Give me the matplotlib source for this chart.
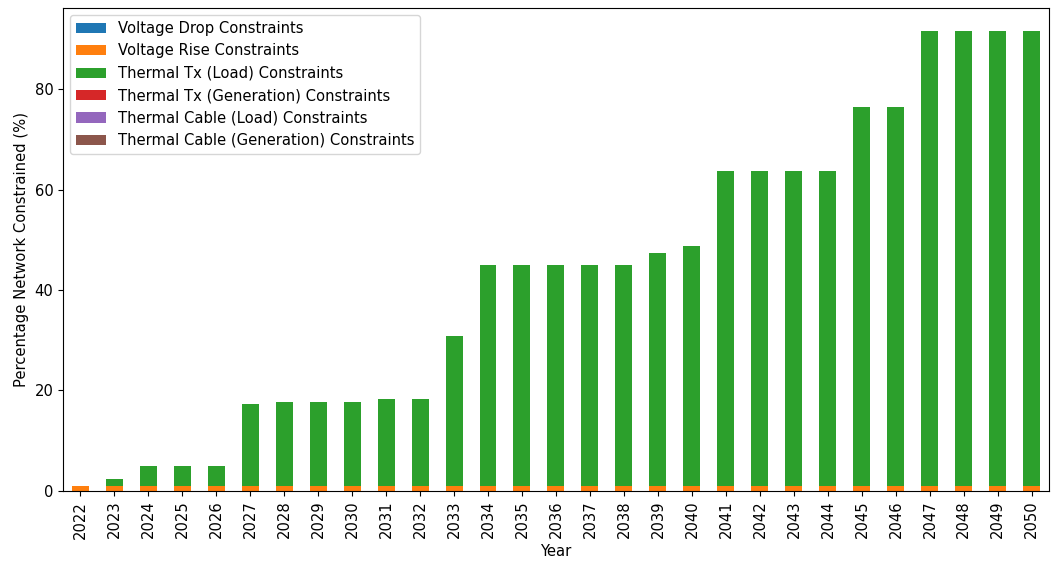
import numpy as np
import pandas as pd
import matplotlib
matplotlib.use("Agg")
import matplotlib.pyplot as plt

plt.rcParams["font.size"] = 10.6

years = list(range(2022, 2051))

voltage_drop = [0.0] * 29
voltage_rise = [1.0] * 29
# totals, minus the ~1% voltage-rise base
thermal_tx_load = [0.0, 1.3, 3.9, 3.9, 3.9, 16.3, 16.8, 16.8, 16.8, 17.4,
                   17.4, 29.8, 43.9, 43.9, 43.9, 43.9, 43.9, 46.3, 47.8, 62.8,
                   62.8, 62.8, 62.8, 75.5, 75.5, 90.6, 90.6, 90.6, 90.6]
thermal_tx_gen = [0.0] * 29
thermal_cable_load = [0.0] * 29
thermal_cable_gen = [0.0] * 29

df = pd.DataFrame({
    "Voltage Drop Constraints": voltage_drop,
    "Voltage Rise Constraints": voltage_rise,
    "Thermal Tx (Load) Constraints": thermal_tx_load,
    "Thermal Tx (Generation) Constraints": thermal_tx_gen,
    "Thermal Cable (Load) Constraints": thermal_cable_load,
    "Thermal Cable (Generation) Constraints": thermal_cable_gen,
}, index=years)
df.index.name = "Year"

fig, ax = plt.subplots(figsize=(10.52, 5.63), dpi=100)
df.plot.bar(stacked=True, ax=ax)
ax.set_ylabel("Percentage Network Constrained (%)")
ax.set_xlabel("Year")
ax.legend(loc="upper left")
fig.subplots_adjust(left=0.060, right=0.997, top=0.986, bottom=0.128)
fig.savefig("out.png", dpi=100)
